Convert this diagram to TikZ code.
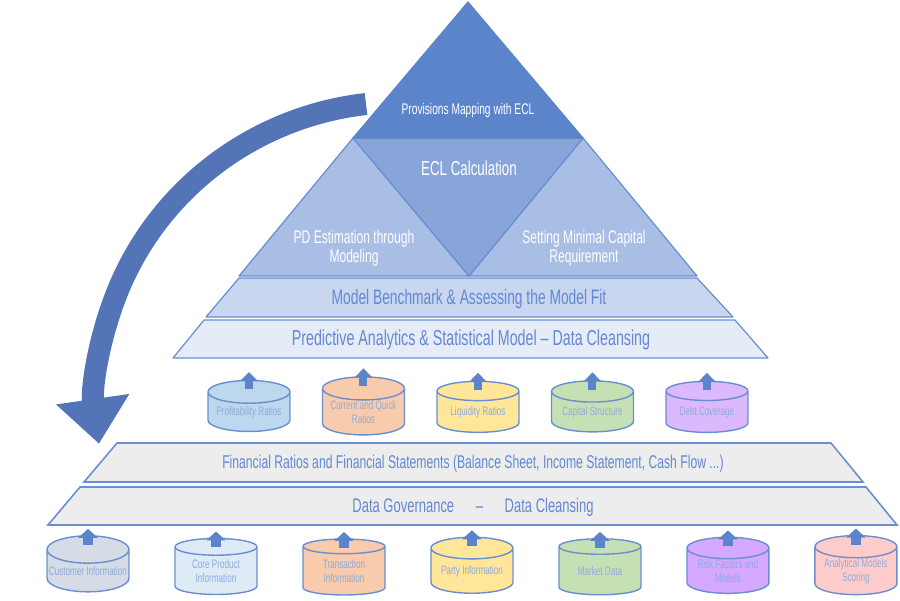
\documentclass[tikz,border=0pt]{standalone}
\usepackage{fontspec}
\setmainfont{Liberation Sans}[FakeStretch=0.66]
\usetikzlibrary{shapes.geometric,arrows.meta,positioning}

\definecolor{tierTop}{HTML}{5B84CB}
\definecolor{tierEcl}{HTML}{88A5D9}
\definecolor{tierSide}{HTML}{A8BEE5}
\definecolor{tierBench}{HTML}{C8D6EF}
\definecolor{tierBase}{HTML}{E5EBF7}
\definecolor{edgeBlue}{HTML}{6A8FD0}
\definecolor{textBlue}{HTML}{6389D0}
\definecolor{dbText}{HTML}{8FAADC}
\definecolor{loopBlue}{HTML}{5375B7}
\definecolor{slabGray}{HTML}{EDEDED}
\definecolor{dbBlue}{HTML}{BDD7EE}
\definecolor{dbOrange}{HTML}{F8CBAD}
\definecolor{dbYellow}{HTML}{FFE699}
\definecolor{dbGreen}{HTML}{C5E0B4}
\definecolor{dbPurple}{HTML}{DBB9FC}
\definecolor{dbSlate}{HTML}{D6DCE5}
\definecolor{dbSky}{HTML}{DEEBF7}
\definecolor{dbViolet}{HTML}{D4A9FF}
\definecolor{dbPink}{HTML}{FFCCCC}

\begin{document}
\begin{tikzpicture}[
    x=0.02cm, y=-0.02cm,
    tier/.style={draw=edgeBlue, line width=0.7pt, line join=round},
    slab/.style={draw=edgeBlue, line width=0.9pt, fill=slabGray},
    whitelabel/.style={text=white, align=center},
    bandlabel/.style={text=textBlue, align=center},
    datastore/.style={cylinder, shape border rotate=90, aspect=0.35, draw=edgeBlue, line width=0.8pt,
        minimum width=1.64cm, minimum height=1.02cm, outer sep=0pt, inner sep=0pt,
        align=center, text=dbText, font=\fontsize{7}{7.8}\selectfont},
    lowstore/.style={datastore, minimum height=1.12cm},
    feedarrow/.style={draw=tierTop, line width=0.16cm, -{Triangle[width=0.34cm, length=0.18cm]}},
    lowarrow/.style={draw=tierTop, line width=0.2cm, -{Triangle[width=0.38cm, length=0.18cm]}},
    looparrow/.style={draw=loopBlue, line width=0.44cm, -{Triangle[width=1.42cm, length=0.9cm]}}
]
\useasboundingbox (0,0) rectangle (900,600);

\coordinate (loopstart) at (366,104);
\draw[looparrow] (loopstart) arc[start angle=263.4, end angle=172, x radius=305, y radius=300];

\coordinate (apex) at (468,2);
\coordinate (tl) at (353,138);
\coordinate (tr) at (583,138);
\coordinate (bl) at (239,276);
\coordinate (br) at (697,276);
\coordinate (bm) at (469,276);
\draw[tier, fill=tierSide] (tl) -- (bl) -- (bm) -- cycle;
\draw[tier, fill=tierSide] (tr) -- (br) -- (bm) -- cycle;
\draw[tier, fill=tierEcl] (tl) -- (tr) -- (bm) -- cycle;
\draw[tier, draw=tierTop, fill=tierTop] (apex) -- (tr) -- (tl) -- cycle;
\draw[tier, fill=tierBench] (239,278) -- (697,278) -- (733,317) -- (206,317) -- cycle;
\draw[tier, fill=tierBase] (204,320) -- (735,320) -- (768,358) -- (173,358) -- cycle;

\draw[slab] (117,443) -- (831,443) -- (863,482) -- (84,482) -- cycle;
\draw[slab] (80,487) -- (866,487) -- (897,525) -- (48,525) -- cycle;

\node[whitelabel, font=\fontsize{8.8}{10}\selectfont] (provisions) at (468,110) {Provisions Mapping with ECL};
\node[whitelabel, font=\fontsize{11.5}{13}\selectfont] (ecl) at (469,168) {ECL Calculation};
\node[whitelabel, font=\fontsize{10.4}{11}\selectfont] (pd) at (354,248) {PD Estimation through\\Modeling};
\node[whitelabel, font=\fontsize{10.4}{11}\selectfont] (capital) at (584,248) {Setting Minimal Capital\\Requirement};
\node[bandlabel, font=\fontsize{11.9}{13}\selectfont] (benchmark) at (469,299) {Model Benchmark \& Assessing the Model Fit};
\node[bandlabel, font=\fontsize{12.3}{14}\selectfont] (predictive) at (471,340) {Predictive Analytics \& Statistical Model -- Data Cleansing};
\node[bandlabel, font=\fontsize{10.5}{12}\selectfont] (statements) at (473,464) {Financial Ratios and Financial Statements (Balance Sheet, Income Statement, Cash Flow ...)};
\node[bandlabel, font=\fontsize{11.2}{12}\selectfont] (governance) at (473,507) {Data Governance\hspace{1.1em}--\hspace{1.1em}Data Cleansing};

\node[datastore, fill=dbBlue] (profit) at (249,412) {Profitability Ratios};
\node[datastore, fill=dbOrange, right=0.65cm of profit] (quick) {Current and Quick\\Ratios};
\node[datastore, fill=dbYellow, right=0.65cm of quick] (liquid) {Liquidity Ratios};
\node[datastore, fill=dbGreen, right=0.65cm of liquid] (capstruct) {Capital Structure};
\node[datastore, fill=dbPurple, right=0.65cm of capstruct] (debt) {Debt Coverage};

\node[lowstore, fill=dbSlate] (customer) at (88,571) {Customer Information};
\node[lowstore, fill=dbSky, right=0.92cm of customer] (product) {Core Product\\Information};
\node[lowstore, fill=dbOrange, right=0.92cm of product] (transaction) {Transaction\\Information};
\node[lowstore, fill=dbYellow, right=0.92cm of transaction] (party) {Party Information};
\node[lowstore, fill=dbGreen, right=0.92cm of party] (market) {Market Data};
\node[lowstore, fill=dbViolet, right=0.92cm of market] (risk) {Risk Factors and\\Models};
\node[lowstore, fill=dbPink, right=0.92cm of risk] (scoring) {Analytical Models\\Scoring};

\draw[feedarrow] ([yshift=-0.18cm]profit.north) -- ([yshift=0.17cm]profit.north);
\draw[feedarrow] ([yshift=-0.18cm]quick.north) -- ([yshift=0.17cm]quick.north);
\draw[feedarrow] ([yshift=-0.18cm]liquid.north) -- ([yshift=0.17cm]liquid.north);
\draw[feedarrow] ([yshift=-0.18cm]capstruct.north) -- ([yshift=0.17cm]capstruct.north);
\draw[feedarrow] ([yshift=-0.18cm]debt.north) -- ([yshift=0.17cm]debt.north);

\draw[lowarrow] ([yshift=-0.18cm]customer.north) -- ([yshift=0.14cm]customer.north);
\draw[lowarrow] ([yshift=-0.18cm]product.north) -- ([yshift=0.14cm]product.north);
\draw[lowarrow] ([yshift=-0.18cm]transaction.north) -- ([yshift=0.14cm]transaction.north);
\draw[lowarrow] ([yshift=-0.18cm]party.north) -- ([yshift=0.14cm]party.north);
\draw[lowarrow] ([yshift=-0.18cm]market.north) -- ([yshift=0.14cm]market.north);
\draw[lowarrow] ([yshift=-0.18cm]risk.north) -- ([yshift=0.14cm]risk.north);
\draw[lowarrow] ([yshift=-0.18cm]scoring.north) -- ([yshift=0.14cm]scoring.north);
\end{tikzpicture}
\end{document}
